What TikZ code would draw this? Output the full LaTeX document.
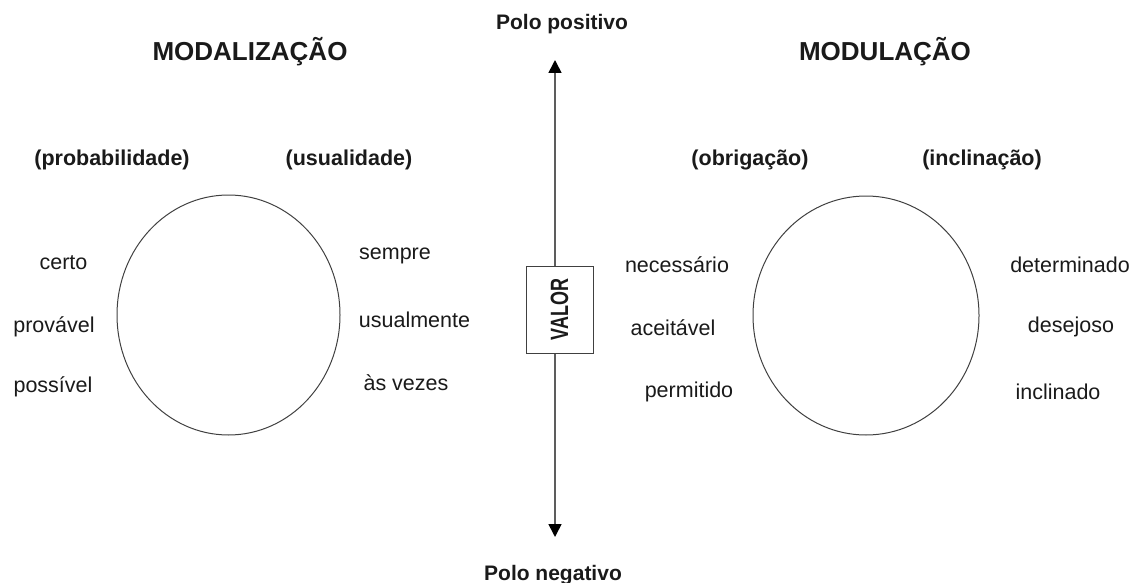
\documentclass[tikz,border=0pt]{standalone}
\usepackage{fontspec}
\setmainfont{Liberation Sans}
\usepackage{graphicx}
\usetikzlibrary{arrows.meta}
\definecolor{txt}{HTML}{1A1A1A}
\definecolor{ln}{HTML}{404040}
\tikzset{
  lbl/.style={inner sep=0pt, text=txt, font=\fontsize{21.5}{24}\selectfont},
  sub/.style={inner sep=0pt, text=txt, font=\fontsize{21.5}{24}\selectfont\bfseries},
  ttl/.style={inner sep=0pt, text=txt, font=\fontsize{26}{29}\selectfont\bfseries},
  pole/.style={inner sep=0pt, text=txt, font=\fontsize{21}{24}\selectfont\bfseries},
  ring/.style={draw=ln, line width=1pt},
  axis/.style={draw=ln!85, line width=1.6pt, -{Triangle[width=13pt,length=13pt,color=black,fill=black]}},
  valbox/.style={draw=ln, line width=1pt, fill=white, minimum width=67pt, minimum height=87pt, inner sep=0pt}
}
\begin{document}
\begin{tikzpicture}[x=1pt,y=-1pt]
\useasboundingbox (0,0) rectangle (1135,583);
% titles
\node[ttl] (modz) at (250,52) {MODALIZAÇÃO};
\node[ttl] (modu) at (885,52) {MODULAÇÃO};
\node[pole] (ppos) at (562,24) {Polo positivo};
\node[pole] (pneg) at (553,575) {Polo negativo};
% subtitles
\node[sub] (prob) at (112,160) {(probabilidade)};
\node[sub] (usua) at (349,160) {(usualidade)};
\node[sub] (obri) at (750,160) {(obrigação)};
\node[sub] (incl) at (982,160) {(inclinação)};
% circles
\draw[ring] (228.5,315) ellipse [x radius=111.5, y radius=120];
\draw[ring] (866,315.5) ellipse [x radius=113, y radius=119.5];
% left labels
\node[lbl] (certo) at (63.5,263) {certo};
\node[lbl] (prov) at (54,327) {provável};
\node[lbl] (poss) at (53,387) {possível};
\node[lbl] (semp) at (395,256) {sempre};
\node[lbl] (usual) at (414.5,320) {usualmente};
\node[lbl] (asvz) at (406,383) {às vezes};
% right labels
\node[lbl] (nece) at (677,265) {necessário};
\node[lbl] (acei) at (673,328) {aceitável};
\node[lbl] (perm) at (689,392) {permitido};
\node[lbl] (dete) at (1070,265) {determinado};
\node[lbl] (dese) at (1071,327) {desejoso};
\node[lbl] (incd) at (1058,392) {inclinado};
% axis
\coordinate (ptop) at (555,60);
\coordinate (pbot) at (555,537);
\node[valbox] (valor) at (559.5,309.5) {\rotatebox{90}{\fontsize{25}{28}\selectfont\bfseries\color{txt}\scalebox{0.72}[1]{VALOR}}};
\draw[axis] (valor.north -| ptop) -- (ptop);
\draw[axis] (valor.south -| pbot) -- (pbot);
\end{tikzpicture}
\end{document}
